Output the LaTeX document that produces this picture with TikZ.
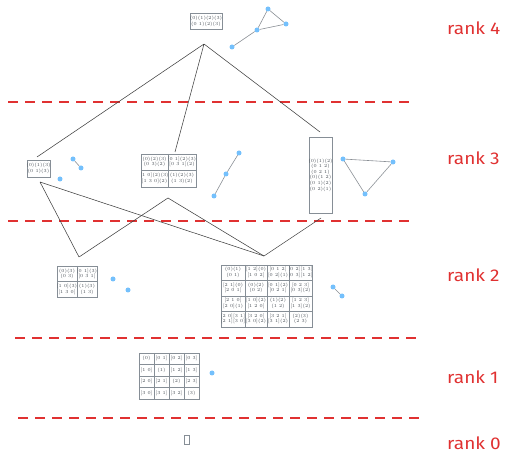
\documentclass[tikz,border=0pt]{standalone}
\usepackage{fontspec}
\newfontfamily\labelfont{Fira Sans}
\definecolor{rankred}{HTML}{E03131}
\definecolor{vblue}{HTML}{74C0FC}
\definecolor{boxgray}{HTML}{868E96}
\definecolor{edgegray}{HTML}{8A8F95}
\definecolor{txtgray}{HTML}{495057}
% line break that is safe before a line starting with "["
\newcommand{\nl}{\\{}}
\tikzset{
  box/.style={draw=boxgray, line width=0.5pt, fill=white, inner sep=0pt},
  grid line/.style={draw=boxgray, line width=0.5pt},
  cell/.style={font=\fontsize{4.6}{5.6}\selectfont, align=center, text=txtgray, inner sep=0pt},
  vtx/.style={circle, fill=vblue, inner sep=0pt, minimum size=5pt},
  gedge/.style={draw=edgegray, line width=0.6pt},
  link/.style={draw=black!75, line width=0.55pt},
  divider/.style={draw=rankred, line width=1.4pt, dash pattern=on 10pt off 7pt},
  ranklabel/.style={text=rankred, font=\labelfont\fontsize{17}{19}\selectfont, anchor=west, inner sep=0pt, xscale=1.12}
}
\begin{document}
\begin{tikzpicture}[x=1pt, y=-1pt]
\useasboundingbox (0,0) rectangle (509,454);

% rank separators
\draw[divider] (8,102) -- (415,102);
\draw[divider] (8,221) -- (415,221);
\draw[divider] (15,338) -- (422,338);
\draw[divider] (18,418) -- (425,418);

% rank labels
\node[ranklabel] (l4) at (447,28) {rank 4};
\node[ranklabel] (l3) at (447,158) {rank 3};
\node[ranklabel] (l2) at (447,275) {rank 2};
\node[ranklabel] (l1) at (447,377) {rank 1};
\node[ranklabel] (l0) at (447,443) {rank 0};

% ---------- rank 4 ----------
\node[box, minimum width=32pt, minimum height=16pt] (r4) at (206,21.5) {};
\node[cell] (r4t) at (r4) {(0)(1)(2)(3)\nl(0 1)(2)(3)};
\node[vtx] (a1) at (232,47) {};
\node[vtx] (a2) at (257,30) {};
\node[vtx] (a3) at (268,9) {};
\node[vtx] (a4) at (286,24) {};
\draw[gedge] (a1) -- (a2) (a2) -- (a3) (a3) -- (a4) (a4) -- (a2);

% ---------- rank 3 ----------
\node[box, minimum width=23pt, minimum height=17pt] (r3a) at (38.5,168.5) {};
\node[cell] (r3at) at (r3a) {(0)(1)(3)\nl(0 1)(3)};
\node[vtx] (b1) at (73,159) {};
\node[vtx] (b2) at (81,168) {};
\node[vtx] (b3) at (60,179) {};
\draw[gedge] (b1) -- (b2);

\node[box, minimum width=55pt, minimum height=33pt] (r3b) at (168.5,170.5) {};
\draw[grid line] (168,154) -- (168,187) (141,170) -- (196,170);
\node[cell] (r3b1) at (154.5,162) {(0)(2)(3)\nl(0 3)(2)};
\node[cell] (r3b2) at (182,162) {[0 1](2)(3)\nl[0 3 1](2)};
\node[cell] (r3b3) at (154.5,178.5) {[1 0](2)(3)\nl[1 3 0](2)};
\node[cell] (r3b4) at (182,178.5) {(1)(2)(3)\nl(1 3)(2)};
\node[vtx] (c1) at (239,153) {};
\node[vtx] (c2) at (226,174) {};
\node[vtx] (c3) at (214,196) {};
\draw[gedge] (c1) -- (c2) (c2) -- (c3);

\node[box, minimum width=23pt, minimum height=76pt] (r3c) at (320.5,175) {};
\node[cell] (r3ct) at (r3c) {(0)(1)(2)\nl(0 1 2)\nl(0 2 1)\nl(0)(1 2)\nl(0 1)(2)\nl(0 2)(1)};
\node[vtx] (d1) at (343,159) {};
\node[vtx] (d2) at (393,162) {};
\node[vtx] (d3) at (365,194) {};
\draw[gedge] (d1) -- (d2) (d2) -- (d3) (d3) -- (d1);

% ---------- rank 2 ----------
\node[box, minimum width=40pt, minimum height=31pt] (r2a) at (77,281.5) {};
\draw[grid line] (77,266) -- (77,297) (57,281.5) -- (97,281.5);
\node[cell] (r2a1) at (67,273.7) {(0)(3)\nl(0 3)};
\node[cell] (r2a2) at (87,273.7) {[0 1](3)\nl[0 3 1]};
\node[cell] (r2a3) at (67,289.2) {[1 0](3)\nl[1 3 0]};
\node[cell] (r2a4) at (87,289.2) {(1)(3)\nl(1 3)};
\node[vtx] (e1) at (113,279) {};
\node[vtx] (e2) at (128,290) {};

\node[box, minimum width=91pt, minimum height=62pt] (r2b) at (266.5,296) {};
\draw[grid line] (245,265) -- (245,327) (267,265) -- (267,327) (289,265) -- (289,327);
\draw[grid line] (221,280) -- (312,280) (221,296) -- (312,296) (221,311) -- (312,311);
\node[cell] (q11) at (233,272.5) {(0)(1)\nl(0 1)};
\node[cell] (q12) at (256,272.5) {[1 2](0)\nl[1 0 2]};
\node[cell] (q13) at (278,272.5) {[0 1 2]\nl[0 2](1)};
\node[cell] (q14) at (300.5,272.5) {[0 2][1 3]\nl[0 3][1 2]};
\node[cell] (q21) at (233,288) {[2 1](0)\nl[2 0 1]};
\node[cell] (q22) at (256,288) {(0)(2)\nl(0 2)};
\node[cell] (q23) at (278,288) {[0 1](2)\nl[0 2 1]};
\node[cell] (q24) at (300.5,288) {[0 2 3]\nl[0 3](2)};
\node[cell] (q31) at (233,303.5) {[2 1 0]\nl[2 0](1)};
\node[cell] (q32) at (256,303.5) {[1 0](2)\nl[1 2 0]};
\node[cell] (q33) at (278,303.5) {(1)(2)\nl(1 2)};
\node[cell] (q34) at (300.5,303.5) {[1 2 3]\nl[1 3](2)};
\node[cell] (q41) at (233,319) {[2 0][3 1]\nl[2 1][3 0]};
\node[cell] (q42) at (256,319) {[3 2 0]\nl[3 0](2)};
\node[cell] (q43) at (278,319) {[3 2 1]\nl[3 1](2)};
\node[cell] (q44) at (300.5,319) {(2)(3)\nl(2 3)};
\node[vtx] (f1) at (333,287) {};
\node[vtx] (f2) at (342,296) {};
\draw[gedge] (f1) -- (f2);

% ---------- rank 1 ----------
\node[box, minimum width=60pt, minimum height=46pt] (r1) at (169,376) {};
\draw[grid line] (154,353) -- (154,399) (169,353) -- (169,399) (184,353) -- (184,399);
\draw[grid line] (139,364.5) -- (199,364.5) (139,376) -- (199,376) (139,387.5) -- (199,387.5);
\node[cell] (s11) at (146.5,358.75) {(0)};
\node[cell] (s12) at (161.5,358.75) {[0 1]};
\node[cell] (s13) at (176.5,358.75) {[0 2]};
\node[cell] (s14) at (191.5,358.75) {[0 3]};
\node[cell] (s21) at (146.5,370.25) {[1 0]};
\node[cell] (s22) at (161.5,370.25) {(1)};
\node[cell] (s23) at (176.5,370.25) {[1 2]};
\node[cell] (s24) at (191.5,370.25) {[1 3]};
\node[cell] (s31) at (146.5,381.75) {[2 0]};
\node[cell] (s32) at (161.5,381.75) {[2 1]};
\node[cell] (s33) at (176.5,381.75) {(2)};
\node[cell] (s34) at (191.5,381.75) {[2 3]};
\node[cell] (s41) at (146.5,393.25) {[3 0]};
\node[cell] (s42) at (161.5,393.25) {[3 1]};
\node[cell] (s43) at (176.5,393.25) {[3 2]};
\node[cell] (s44) at (191.5,393.25) {(3)};
\node[vtx] (g1) at (212,373) {};

% ---------- rank 0 ----------
\node[box, minimum width=5pt, minimum height=9pt] (r0) at (187,440) {};

% ---------- cover relations ----------
\coordinate (top4) at (204,44);
\coordinate (endA) at (37,157);
\coordinate (endB) at (175,152);
\coordinate (endC) at (320,132);
\draw[link] (top4) -- (endA) (top4) -- (endB) (top4) -- (endC);

\coordinate (srcA) at (40,182);
\coordinate (srcB) at (168,198);
\coordinate (srcC) at (321,218);
\coordinate (dstA) at (79,257);
\coordinate (dstB) at (264,256);
\draw[link] (srcA) -- (dstA) (srcA) -- (dstB);
\draw[link] (dstA) -- (srcB) -- (dstB);
\draw[link] (srcC) -- (dstB);
\end{tikzpicture}
\end{document}
